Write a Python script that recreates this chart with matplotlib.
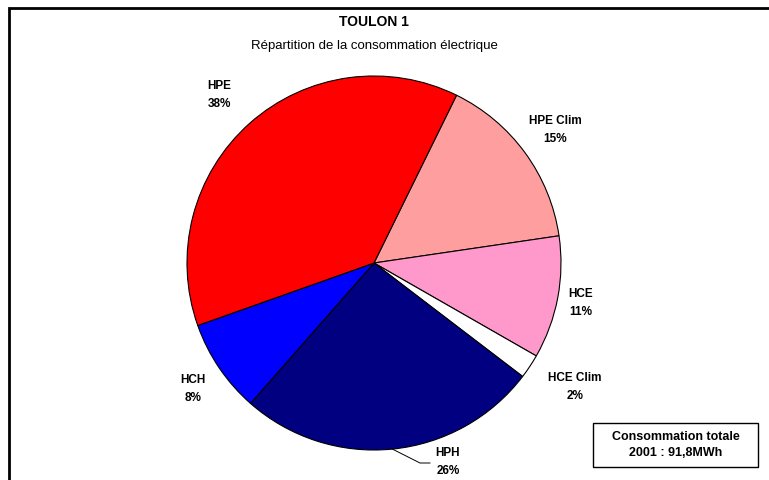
import matplotlib
matplotlib.use("Agg")
import matplotlib.pyplot as plt
import numpy as np
from matplotlib.patches import Rectangle

plt.rcParams['font.family'] = ['Liberation Sans', 'DejaVu Sans']

title = "TOULON 1"
subtitle = "Répartition de la consommation électrique"
categories = ["HPE Clim", "HCE", "HCE Clim", "HPH", "HCH", "HPE"]
values = [15.4, 10.6, 2.1, 26.1, 8.1, 37.7]
colors = ["#FF9E9E", "#FF99CC", "#FFFFFF", "#000080", "#0000FF", "#FF0000"]
total_text = "Consommation totale\n2001 : 91,8MWh"

W, H = 769, 480
fig = plt.figure(figsize=(W / 100, H / 100), dpi=100)
ax = fig.add_axes([0, 0, 1, 1])

cx, cy, r = 374, H - 263, 187
start = 63.8
wedges, _ = ax.pie(values, colors=colors, startangle=start, counterclock=False,
                   center=(cx, cy), radius=r, frame=True,
                   wedgeprops=dict(edgecolor='black', linewidth=0.8))
ax.set_xlim(0, W)
ax.set_ylim(0, H)
ax.set_aspect('equal')
ax.axis('off')

# outer frame
ax.add_patch(Rectangle((9, -20), 800, H - 8 + 20, fill=False, edgecolor='black',
                       linewidth=2, clip_on=False))

ax.text(374, H - 22, title, ha='center', va='center', fontsize=10, fontweight='bold')
ax.text(374, H - 46, subtitle, ha='center', va='center', fontsize=9.5)

label_pos = {
    "HPE": (219, 95),
    "HPE Clim": (555, 130),
    "HCE": (581, 303),
    "HCE Clim": (575, 387),
    "HPH": (448, 462),
    "HCH": (193, 389),
}
for cat, v in zip(categories, values):
    x, y = label_pos[cat]
    ax.text(x, H - y, f"{cat}\n{v:.0f}%", ha='center', va='center', fontsize=8.5,
            fontweight='bold', linespacing=1.6)

# leader line for HPH
cum = np.cumsum([0] + values)
i = categories.index("HPH")
mid = np.deg2rad(start - 360 * (cum[i] + cum[i + 1]) / 2 / 100)
ex, ey = cx + r * np.cos(mid), cy + r * np.sin(mid)
ax.plot([ex, 420, 430], [ey, H - 463, H - 463], color='black', linewidth=0.7)

# total box
ax.add_patch(Rectangle((593, H - 467), 165, 44, facecolor='white', edgecolor='black',
                       linewidth=1))
ax.text(675.5, H - 445, total_text, ha='center', va='center', fontsize=9,
        fontweight='bold', linespacing=1.5)

fig.savefig("out.png", dpi=100)
